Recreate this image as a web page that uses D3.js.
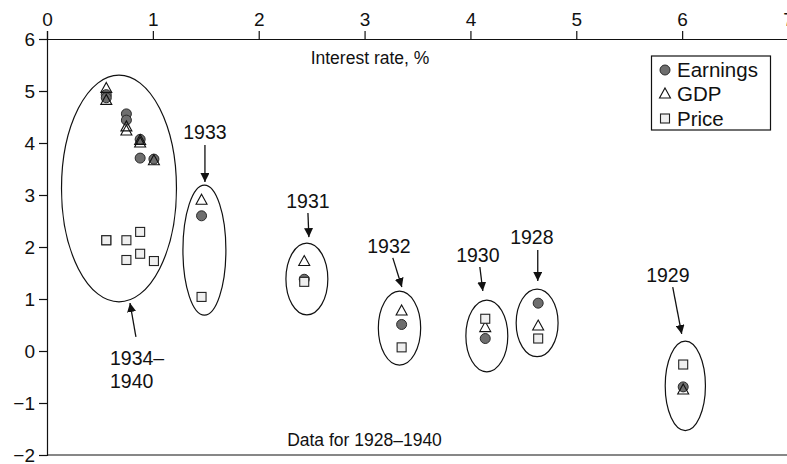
<!DOCTYPE html>
<html>
<head>
<meta charset="utf-8">
<script src="https://cdn.jsdelivr.net/npm/d3@7"></script>
<style>
  html, body { margin: 0; padding: 0; background: #fff; }
  svg { display: block; font-family: "Liberation Sans", Arial, Helvetica, sans-serif; }
</style>
</head>
<body>
<svg id="chart" width="787" height="464"></svg>
<script>
// Annual observations, 1928–1940
const years        = [1928, 1929, 1930, 1931, 1932, 1933, 1934, 1935, 1936, 1937, 1938, 1939, 1940];
const interestRate = [4.64, 6.01, 4.14, 2.43, 3.35, 1.46, 1.01, 0.88, 0.75, 0.88, 0.56, 0.56, 0.75];
const earnings     = [0.92, -0.69, 0.24, 1.38, 0.51, 2.60, 3.69, 4.07, 4.56, 3.71, 4.93, 4.87, 4.44];
const gdp          = [0.48, -0.75, 0.45, 1.72, 0.77, 2.90, 3.66, 4.05, 4.31, 4.00, 5.05, 4.82, 4.23];
const price        = [0.24, -0.26, 0.62, 1.33, 0.07, 1.04, 1.73, 2.29, 2.13, 1.87, 2.13, 2.13, 1.75];

const xTicks = [0, 1, 2, 3, 4, 5, 6, 7];
const yTicks = [-2, -1, 0, 1, 2, 3, 4, 5, 6];

// Group annotations in data units: ellipse centre/radii, label position, arrow start/end
const groupNames  = ["1934–1940", "1933", "1931", "1932", "1930", "1928", "1929"];
const ellipseCx   = [0.68, 1.487, 2.455, 3.33, 4.155, 4.63, 6.03];
const ellipseCy   = [3.125, 1.94, 1.385, 0.44, 0.29, 0.54, -0.67];
const ellipseRx   = [0.543, 0.203, 0.198, 0.2, 0.198, 0.198, 0.19];
const ellipseRy   = [2.18, 1.25, 0.69, 0.71, 0.69, 0.65, 0.86];
const labelX      = [0.595, 1.492, 2.465, 3.23, 4.07, 4.58, 5.865];
const labelY      = [-0.135, 4.21, 2.885, 2.02, 1.846, 2.19, 1.46];
const arrowX1     = [0.84, 1.492, 2.465, 3.267, 4.089, 4.636, 5.911];
const arrowY1     = [0.27, 3.96, 2.654, 1.79, 1.615, 1.94, 1.23];
const arrowX2     = [0.784, 1.492, 2.474, 3.352, 4.117, 4.636, 5.996];
const arrowY2     = [0.923, 3.25, 2.19, 1.23, 1.154, 1.346, 0.327];

const seriesNames = ["Earnings", "GDP", "Price"];

const svg = d3.select("#chart");
const x = d3.scaleLinear().domain([0, 7]).range([47, 788]);
const y = d3.scaleLinear().domain([-2, 6]).range([455, 39]);

// Arrow head marker
svg.append("defs").append("marker")
  .attr("id", "arrowhead")
  .attr("viewBox", "0 0 10 10")
  .attr("refX", 10).attr("refY", 5)
  .attr("markerWidth", 9).attr("markerHeight", 9)
  .attr("markerUnits", "userSpaceOnUse")
  .attr("orient", "auto")
  .append("path").attr("d", "M0,0 L10,5 L0,10 Z").attr("fill", "#111");

// Top axis
const topAxis = svg.append("g")
  .attr("transform", `translate(0,${y(6)})`)
  .call(d3.axisTop(x).tickValues(xTicks).tickFormat(d3.format("d")).tickSize(8).tickPadding(5));
// Left axis
const leftAxis = svg.append("g")
  .attr("transform", `translate(${x(0)},0)`)
  .call(d3.axisLeft(y).tickValues(yTicks).tickFormat(d => d < 0 ? "\u2212" + Math.abs(d) : d).tickSize(8).tickPadding(4));
[topAxis, leftAxis].forEach(g => {
  g.select(".domain").attr("stroke", "#111").attr("stroke-width", 1.2);
  g.selectAll(".tick line").attr("stroke", "#111").attr("stroke-width", 1.2);
  g.selectAll(".tick text").attr("fill", "#111").style("font-size", "19px")
    .style("font-family", "'Liberation Sans', Arial, sans-serif");
});
// Bottom frame line at y = -2
svg.append("line")
  .attr("x1", x(0)).attr("x2", 787).attr("y1", y(-2)).attr("y2", y(-2))
  .attr("stroke", "#111").attr("stroke-width", 1.2);

// Axis titles
svg.append("text").attr("x", 370).attr("y", 64).attr("text-anchor", "middle")
  .style("font-size", "17.5px").attr("fill", "#111").text("Interest rate, %");
svg.append("text").attr("x", 364.5).attr("y", 446).attr("text-anchor", "middle")
  .style("font-size", "17.5px").attr("fill", "#111").text("Data for 1928–1940");

// Group ellipses
const gAnn = svg.append("g");
groupNames.forEach((name, i) => {
  gAnn.append("ellipse")
    .attr("cx", x(ellipseCx[i])).attr("cy", y(ellipseCy[i]))
    .attr("rx", x(ellipseRx[i]) - x(0)).attr("ry", y(0) - y(ellipseRy[i]))
    .attr("fill", "none").attr("stroke", "#111").attr("stroke-width", 1.2);
  gAnn.append("line")
    .attr("x1", x(arrowX1[i])).attr("y1", y(arrowY1[i]))
    .attr("x2", x(arrowX2[i])).attr("y2", y(arrowY2[i]))
    .attr("stroke", "#111").attr("stroke-width", 1.3)
    .attr("marker-end", "url(#arrowhead)");
  if (name.includes("–")) {
    const parts = name.split("–");
    const t = gAnn.append("text").attr("x", x(labelX[i])).attr("y", y(labelY[i]))
      .attr("dy", "0.35em").style("font-size", "19.5px").attr("fill", "#111");
    t.append("tspan").attr("x", x(labelX[i])).text(parts[0] + "–");
    t.append("tspan").attr("x", x(labelX[i])).attr("dy", "1.2em").text(parts[1]);
  } else {
    gAnn.append("text").attr("x", x(labelX[i])).attr("y", y(labelY[i]))
      .attr("dy", "0.35em").attr("text-anchor", "middle")
      .style("font-size", "19.5px").attr("fill", "#111").text(name);
  }
});

// Marker shapes
const triPath = "M0,-6 L5.5,4 L-5.5,4 Z";
function drawMarker(sel, kind) {
  if (kind === "Earnings") {
    sel.append("circle").attr("r", 5).attr("fill", "#6e6e6e").attr("stroke", "#2a2a2a").attr("stroke-width", 1);
  } else if (kind === "GDP") {
    sel.append("path").attr("d", triPath).attr("fill", "none").attr("stroke", "#111").attr("stroke-width", 1.1);
  } else {
    sel.append("rect").attr("x", -4.5).attr("y", -4.5).attr("width", 9).attr("height", 9)
      .attr("fill", "#efefef").attr("stroke", "#222").attr("stroke-width", 1.1);
  }
}

// Points
const seriesValues = [earnings, gdp, price];
seriesNames.forEach((name, s) => {
  const g = svg.append("g");
  years.forEach((yr, i) => {
    const m = g.append("g").attr("transform", `translate(${x(interestRate[i])},${y(seriesValues[s][i])})`);
    drawMarker(m, name);
  });
});

// Legend
const legend = svg.append("g");
legend.append("rect").attr("x", 651.5).attr("y", 56).attr("width", 119).attr("height", 74)
  .attr("fill", "#fff").attr("stroke", "#111").attr("stroke-width", 1.2);
const legendRows = [70, 94, 118.5];
seriesNames.forEach((name, i) => {
  const m = legend.append("g").attr("transform", `translate(665,${legendRows[i]})`);
  drawMarker(m, name);
  legend.append("text").attr("x", 677).attr("y", legendRows[i]).attr("dy", "0.35em")
    .style("font-size", "20.5px").attr("fill", "#111").text(name);
});
</script>
</body>
</html>
